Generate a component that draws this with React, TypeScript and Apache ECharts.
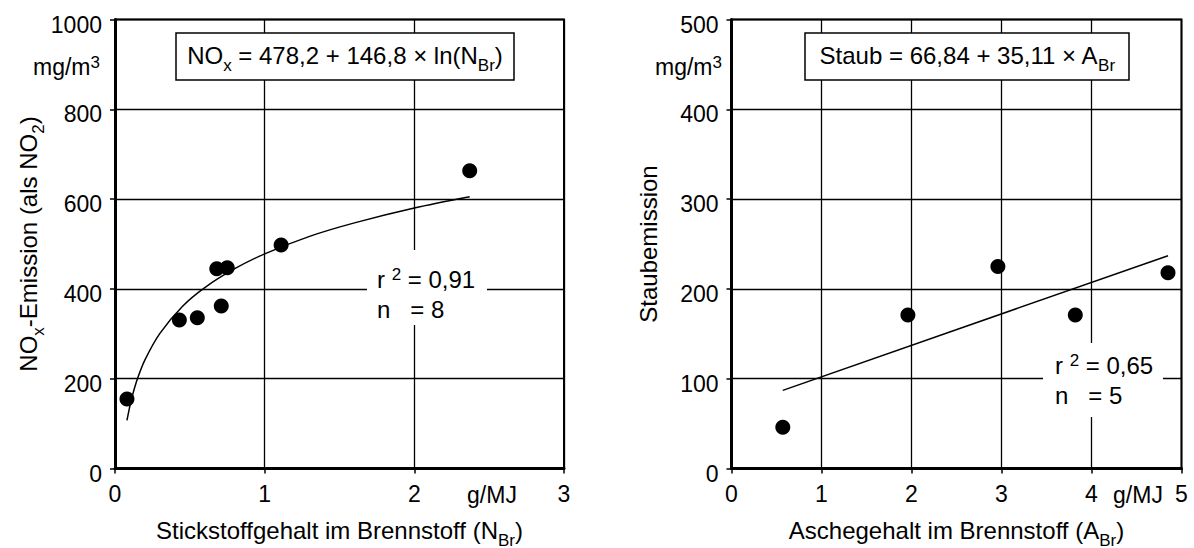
import React, { useEffect, useRef } from "react";
import * as echarts from "echarts";

const FONT = "Liberation Sans, Arial, sans-serif";

// Left chart: NOx emission vs nitrogen content
const noxXTicks = [0, 1, 2, 3];
const noxYTicks = [0, 200, 400, 600, 800, 1000];
const noxPointsX = [0.08, 0.43, 0.55, 0.68, 0.75, 0.71, 1.11, 2.37];
const noxPointsY = [155, 331, 336, 445, 447, 362, 498, 663];
const noxFitX = [0.08, 0.1, 0.12, 0.15, 0.2, 0.3, 0.45, 0.6, 0.8, 1.0, 1.3, 1.6, 2.0, 2.37];
const noxFitY = [107, 140, 167, 200, 242, 301, 361, 403, 445, 478, 517, 547, 580, 605];

// Right chart: dust emission vs ash content
const staubXTicks = [0, 1, 2, 3, 4, 5];
const staubYTicks = [0, 100, 200, 300, 400, 500];
const staubPointsX = [0.57, 1.96, 2.96, 3.82, 4.85];
const staubPointsY = [46, 171, 225, 171, 218];
const staubFitX = [0.57, 4.85];
const staubFitY = [87, 237];

const subRich = {
  sub: { fontSize: 17, fontFamily: FONT, color: "#000", padding: [20, 0, 0, 0] },
  sup: { fontSize: 17, fontFamily: FONT, color: "#000", padding: [0, 0, 10, 0] },
};

function zip(xs: number[], ys: number[]) {
  return xs.map((x, i) => [x, ys[i]]);
}

function makeAxis(ticks: number[], extra: any) {
  return {
    type: "value",
    min: ticks[0],
    max: ticks[ticks.length - 1],
    interval: ticks[1] - ticks[0],
    axisLine: { show: true, onZero: false, lineStyle: { color: "#000", width: 3 } },
    axisTick: { show: true, length: 5, lineStyle: { color: "#000", width: 1.5 } },
    splitLine: { show: true, lineStyle: { color: "#000", width: 1.3 } },
    nameLocation: "middle",
    nameTextStyle: { color: "#000", fontSize: 24, fontFamily: FONT, rich: subRich },
    ...extra,
  };
}

export default function App() {
  const ref = useRef<HTMLDivElement>(null);
  useEffect(() => {
    document.body.style.margin = "0";
    const chart = echarts.init(ref.current!, null, { renderer: "svg" });
    const fmt = (v: number) => String(v);
    const xLabel = { color: "#000", fontSize: 23, fontFamily: FONT, margin: 14, formatter: fmt };
    const yLabel = {
      color: "#000",
      fontSize: 23,
      fontFamily: FONT,
      margin: 13,
      formatter: (v: number) => "{v|" + v + "}",
      rich: { v: { fontSize: 23, fontFamily: FONT, color: "#000", padding: [10, 0, 0, 0] } },
    };
    const textStyle = (text: string, x: number, y: number, align: string, vAlign: string, size = 24) => ({
      type: "text",
      z: 10,
      style: {
        text,
        x,
        y,
        fill: "#000",
        fontSize: size,
        fontFamily: FONT,
        textAlign: align,
        textVerticalAlign: vAlign,
        rich: subRich,
      },
    });
    const whiteRect = (x: number, y: number, w: number, h: number, stroke: boolean) => ({
      type: "rect",
      z: 8,
      shape: { x, y, width: w, height: h },
      style: { fill: "#fff", stroke: stroke ? "#000" : "none", lineWidth: stroke ? 1.5 : 0 },
    });
    const gridBase = {
      top: 19.5,
      height: 449,
      show: true,
      borderColor: "#000",
      borderWidth: 2,
      backgroundColor: "transparent",
      containLabel: false,
      outerBoundsMode: "none",
    };
    chart.setOption({
      animation: false,
      backgroundColor: "#fff",
      grid: [
        { ...gridBase, left: 115, width: 449 },
        { ...gridBase, left: 731.5, width: 450 },
      ],
      xAxis: [
        makeAxis(noxXTicks, {
          gridIndex: 0,
          name: "Stickstoffgehalt im Brennstoff (N{sub|Br})",
          nameGap: 43,
          axisLabel: xLabel,
        }),
        makeAxis(staubXTicks, {
          gridIndex: 1,
          name: "Aschegehalt im Brennstoff (A{sub|Br})",
          nameGap: 43,
          axisLabel: xLabel,
        }),
      ],
      yAxis: [
        makeAxis(noxYTicks, {
          gridIndex: 0,
          name: "NO{sub|x}-Emission (als NO{sub|2})",
          nameGap: 68,
          axisLabel: yLabel,
        }),
        makeAxis(staubYTicks, {
          gridIndex: 1,
          name: "Staubemission",
          nameGap: 71,
          axisLabel: yLabel,
        }),
      ],
      series: [
        {
          type: "line",
          xAxisIndex: 0,
          yAxisIndex: 0,
          data: zip(noxFitX, noxFitY),
          smooth: 0.3,
          showSymbol: false,
          symbol: "none",
          lineStyle: { color: "#000", width: 1.5 },
          z: 3,
        },
        {
          type: "scatter",
          xAxisIndex: 0,
          yAxisIndex: 0,
          data: zip(noxPointsX, noxPointsY),
          symbolSize: 15,
          itemStyle: { color: "#000", opacity: 1 },
          z: 4,
        },
        {
          type: "line",
          xAxisIndex: 1,
          yAxisIndex: 1,
          data: zip(staubFitX, staubFitY),
          showSymbol: false,
          symbol: "none",
          lineStyle: { color: "#000", width: 1.5 },
          z: 3,
        },
        {
          type: "scatter",
          xAxisIndex: 1,
          yAxisIndex: 1,
          data: zip(staubPointsX, staubPointsY),
          symbolSize: 15,
          itemStyle: { color: "#000", opacity: 1 },
          z: 4,
        },
      ],
      graphic: [
        whiteRect(176, 33, 338, 47, true),
        whiteRect(805, 33, 324, 47, true),
        whiteRect(367, 250, 120, 75, false),
        whiteRect(1043, 343, 120, 74, false),
        textStyle("NO{sub|x} = 478,2 + 146,8 × ln(N{sub|Br})", 345, 55, "center", "middle"),
        textStyle("Staub = 66,84 + 35,11 × A{sub|Br}", 967, 55, "center", "middle"),
        textStyle("mg/m{sup|3}", 100, 67, "right", "middle", 23),
        textStyle("mg/m{sup|3}", 722, 67, "right", "middle", 23),
        textStyle("g/MJ", 492, 483, "center", "top", 23),
        textStyle("g/MJ", 1138, 483, "center", "top", 23),
        textStyle("r {sup|2} = 0,91", 377, 279, "left", "middle"),
        textStyle("n   = 8", 377, 309, "left", "middle"),
        textStyle("r {sup|2} = 0,65", 1055, 365, "left", "middle"),
        textStyle("n   = 5", 1055, 395, "left", "middle"),
      ],
    });
    return () => chart.dispose();
  }, []);
  return <div ref={ref} style={{ width: 1194, height: 548 }} />;
}
